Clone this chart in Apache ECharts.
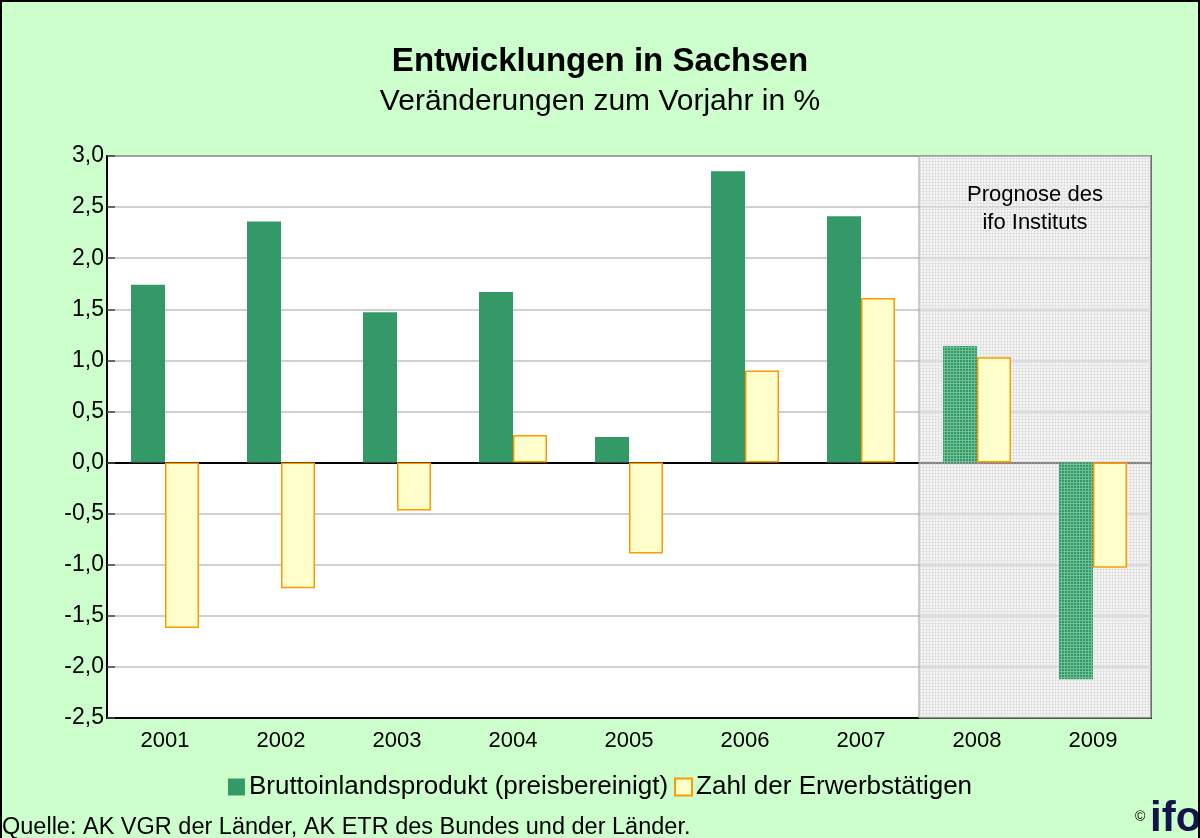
<!DOCTYPE html>
<html><head><meta charset="utf-8">
<script src="https://cdn.jsdelivr.net/npm/echarts@6/dist/echarts.min.js"></script>
<style>
html,body{margin:0;padding:0;background:#CCFFCC;}
#c{width:1200px;height:838px;box-sizing:border-box;border:2px solid #000;border-bottom:none;}
</style></head>
<body><div id="c"></div>
<script>
const categories = ['2001','2002','2003','2004','2005','2006','2007','2008','2009'];
const bipValues = [1.74, 2.36, 1.47, 1.67, 0.25, 2.85, 2.41, 1.14, -2.12];
const erwValues = [-1.62, -1.23, -0.47, 0.27, -0.89, 0.90, 1.61, 1.03, -1.03];
const forecastFrom = 7; // index of 2008
const seriesNames = ['Bruttoinlandsprodukt (preisbereinigt)', 'Zahl der Erwerbstätigen'];

function makePattern(bg, line, size) {
  const c = document.createElement('canvas');
  c.width = c.height = size;
  const ctx = c.getContext('2d');
  ctx.fillStyle = bg; ctx.fillRect(0, 0, size, size);
  ctx.fillStyle = line; ctx.fillRect(0, 0, size, 1); ctx.fillRect(0, 0, 1, size);
  return c;
}
const greenPat = {image: makePattern('#339966', '#6FBF95', 3), repeat: 'repeat'};
const grayPat = {image: makePattern('rgba(235,235,235,0.55)', 'rgba(200,200,200,0.35)', 3), repeat: 'repeat'};

const chart = echarts.init(document.getElementById('c'));
const font = 'Liberation Sans, Arial, sans-serif';
chart.setOption({
  backgroundColor: '#CCFFCC',
  textStyle: {fontFamily: font},
  title: [
    {text: 'Entwicklungen in Sachsen', left: 'center', top: 38, textStyle: {fontSize: 33, fontWeight: 'bold', color: '#000', fontFamily: font}},
    {text: 'Veränderungen zum Vorjahr in %', left: 'center', top: 80, textStyle: {fontSize: 30, fontWeight: 'normal', color: '#000', fontFamily: font}}
  ],
  legend: {
    top: 767, left: 'center', itemWidth: 17, itemHeight: 17, itemGap: 6, icon: 'rect',
    textStyle: {fontSize: 26, color: '#000', fontFamily: font, padding: [0, 0, 0, -1]},
    data: seriesNames
  },
  grid: {left: 105, right: 47, top: 154, bottom: 120, show: true, backgroundColor: '#fff', borderColor: '#000', borderWidth: 1.5},
  xAxis: [
    {type: 'category', data: categories, position: 'bottom',
     axisLine: {onZero: false, lineStyle: {color: '#000', width: 2}},
     axisTick: {inside: true, length: 7, lineStyle: {color: '#000', width: 1.5}},
     axisLabel: {fontSize: 22, color: '#000', margin: 12, fontFamily: font}},
    {type: 'category', data: categories, position: 'bottom',
     axisLine: {onZero: true, lineStyle: {color: '#000', width: 2}},
     axisTick: {inside: true, length: 6, lineStyle: {color: '#000', width: 1.5}},
     axisLabel: {show: false}},
    {type: 'value', min: 0, max: categories.length, show: false}
  ],
  yAxis: {
    type: 'value', min: -2.5, max: 3, interval: 0.5,
    axisLine: {show: true, lineStyle: {color: '#000', width: 2}},
    axisTick: {show: true, inside: true, length: 8, lineStyle: {color: '#444', width: 1.5}},
    axisLabel: {fontSize: 23, color: '#000', margin: 3, fontFamily: font, formatter: v => v.toFixed(1).replace('.', ',')},
    splitLine: {lineStyle: {color: '#C0C0C0', width: 1.5}}
  },
  series: [
    {type: 'line', xAxisIndex: 2, data: [], silent: true, z: 3,
     markArea: {silent: true,
       itemStyle: {color: grayPat, borderColor: '#A0A0A0', borderWidth: 1},
       label: {show: true, position: 'insideTop', distance: 25, fontSize: 22, color: '#000', lineHeight: 28, fontFamily: font},
       data: [[{name: 'Prognose des\nifo Instituts', xAxis: forecastFrom, yAxis: -2.5}, {xAxis: categories.length, yAxis: 3}]]}},
    {name: seriesNames[0], type: 'bar', barWidth: 34, barGap: '0%', z: 4,
     itemStyle: {color: '#339966'},
     data: bipValues.map((v, i) => i >= forecastFrom ? {value: v, itemStyle: {color: greenPat}} : v)},
    {name: seriesNames[1], type: 'bar', barWidth: 34, z: 4,
     itemStyle: {color: '#FFFFCC', borderColor: '#FF9900', borderWidth: 1.5},
     data: erwValues}
  ],
  graphic: [
    {type: 'text', left: 0, top: 814, style: {text: 'Quelle: AK VGR der Länder, AK ETR des Bundes und der Länder.', fontSize: 23.5, fill: '#000', fontFamily: font}},
    {type: 'text', left: 1133, top: 808, style: {text: '©', fontSize: 14, fill: '#000', fontFamily: font}},
    {type: 'text', left: 1148, top: 796, style: {text: 'ifo', fontSize: 42, fontWeight: 'bold', fill: '#14144a', fontFamily: font}}
  ]
});
</script></body></html>
